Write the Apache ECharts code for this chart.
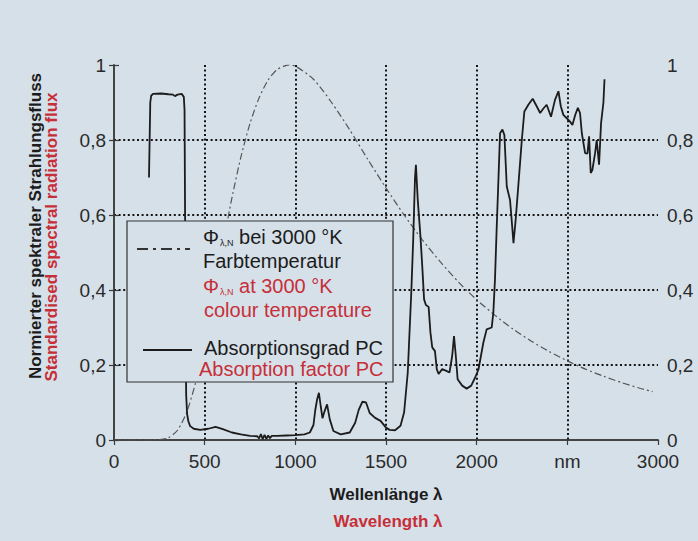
<!DOCTYPE html>
<html><head><meta charset="utf-8">
<script src="https://cdn.jsdelivr.net/npm/echarts@6/dist/echarts.min.js"></script>
<style>html,body{margin:0;padding:0;background:#d6e0e9}#c{width:698px;height:541px}</style>
</head><body><div id="c"></div>
<script>
// Tick labels
const xTickLabels = ['0', '500', '1000', '1500', '2000', 'nm', '3000'];
const yTickLabels = ['0', '0,2', '0,4', '0,6', '0,8', '1'];

// Normalised spectral radiation flux at 3000 K colour temperature (dash-dot curve)
const planckWavelength = [0, 100, 200, 250, 300, 350, 400, 450, 500, 550, 600, 650, 700, 750, 800, 850, 900, 950, 966, 1000, 1100, 1200, 1300, 1400, 1500, 1600, 1700, 1800, 1900, 2000, 2100, 2200, 2300, 2400, 2500, 2600, 2700, 2800, 2900, 2970];
const planckValue      = [0, 0, 0, 0.001, 0.006, 0.026, 0.073, 0.153, 0.262, 0.388, 0.520, 0.645, 0.755, 0.844, 0.912, 0.960, 0.988, 0.999, 1.0, 0.997, 0.962, 0.900, 0.827, 0.748, 0.672, 0.600, 0.534, 0.475, 0.421, 0.374, 0.333, 0.296, 0.264, 0.236, 0.211, 0.189, 0.170, 0.153, 0.138, 0.129];

// Absorption factor PC (solid curve)
const absWavelength = [193, 200, 205, 215, 260, 300, 325, 336, 350, 373, 385, 389, 392, 395, 398, 403, 410, 420, 440, 475, 520, 560, 600, 650, 700, 750, 790, 800, 810, 820, 830, 840, 850, 860, 870, 900, 950, 1000, 1050, 1080, 1100, 1110, 1120, 1130, 1140, 1150, 1160, 1175, 1190, 1210, 1250, 1300, 1330, 1350, 1370, 1390, 1410, 1440, 1470, 1500, 1520, 1550, 1580, 1600, 1620, 1640, 1650, 1660, 1665, 1675, 1690, 1700, 1710, 1720, 1735, 1745, 1755, 1770, 1780, 1790, 1810, 1830, 1850, 1865, 1875, 1885, 1895, 1920, 1945, 1970, 1991, 2010, 2037, 2055, 2083, 2092, 2101, 2110, 2120, 2129, 2142, 2153, 2166, 2184, 2193, 2203, 2215, 2230, 2249, 2263, 2285, 2309, 2331, 2350, 2368, 2386, 2410, 2432, 2451, 2464, 2478, 2497, 2515, 2528, 2543, 2558, 2570, 2580, 2598, 2611, 2620, 2629, 2638, 2653, 2662, 2675, 2686, 2699, 2705];
const absValue      = [0.70, 0.90, 0.918, 0.923, 0.924, 0.922, 0.921, 0.917, 0.921, 0.923, 0.915, 0.88, 0.60, 0.30, 0.12, 0.07, 0.05, 0.037, 0.03, 0.027, 0.03, 0.035, 0.029, 0.02, 0.015, 0.011, 0.01, 0.004, 0.016, 0.002, 0.014, 0.003, 0.012, 0.005, 0.011, 0.011, 0.012, 0.013, 0.015, 0.02, 0.04, 0.08, 0.108, 0.126, 0.09, 0.058, 0.075, 0.095, 0.055, 0.024, 0.015, 0.02, 0.046, 0.081, 0.102, 0.10, 0.072, 0.059, 0.051, 0.033, 0.027, 0.026, 0.038, 0.074, 0.18, 0.40, 0.534, 0.70, 0.734, 0.641, 0.543, 0.463, 0.375, 0.36, 0.355, 0.287, 0.247, 0.237, 0.189, 0.176, 0.189, 0.185, 0.18, 0.224, 0.277, 0.224, 0.162, 0.145, 0.137, 0.145, 0.166, 0.188, 0.26, 0.295, 0.30, 0.34, 0.428, 0.56, 0.694, 0.818, 0.828, 0.813, 0.676, 0.64, 0.587, 0.525, 0.587, 0.68, 0.80, 0.876, 0.894, 0.91, 0.89, 0.872, 0.884, 0.894, 0.862, 0.907, 0.93, 0.89, 0.867, 0.858, 0.849, 0.84, 0.866, 0.886, 0.872, 0.818, 0.765, 0.764, 0.81, 0.712, 0.72, 0.765, 0.80, 0.734, 0.845, 0.9, 0.962];

const BG = '#d6e0e9';
const RED = '#c62f38';
const INK = '#1c1c1c';
const FONT = '"Liberation Sans", Arial, Helvetica, sans-serif';

const planckData = planckWavelength.map((x, i) => [x, planckValue[i]]);
const absData = absWavelength.map((x, i) => [x, absValue[i]]);

const chart = echarts.init(document.getElementById('c'), null, { renderer: 'svg' });

const gridLine = { show: true, showMinLine: false, showMaxLine: false, lineStyle: { color: '#151515', width: 2, type: [2, 2.6] } };
const axisLineStyle = { show: true, lineStyle: { color: '#3a3a3a', width: 1.5 } };
const tickStyle = { show: true, length: 5, lineStyle: { color: '#3a3a3a', width: 1.2 } };
const labelStyle = { fontSize: 19, color: '#2a2a2a', fontFamily: FONT };

const subRich = {
  p: { fontSize: 20, fontFamily: FONT },
  s: { fontSize: 9, fontFamily: FONT, verticalAlign: 'bottom', padding: [0, 0, 0, 1] },
  t: { fontSize: 20, fontFamily: FONT }
};

function el(o) { o.zlevel = 1; o.z = o.z || 100; return o; }

chart.setOption({
  backgroundColor: BG,
  animation: false,
  textStyle: { fontFamily: FONT },
  grid: { left: 114, right: 40, top: 65, bottom: 101, containLabel: false },
  xAxis: [
    {
      type: 'value', min: 0, max: 3000, interval: 500, position: 'bottom',
      axisLine: axisLineStyle, axisTick: tickStyle,
      axisLabel: Object.assign({ margin: 12, formatter: (v, i) => xTickLabels[Math.round(v / 500)] }, labelStyle),
      splitLine: gridLine
    },
    {
      type: 'value', min: 0, max: 3000, interval: 500, position: 'top',
      axisLine: axisLineStyle, axisTick: { show: false }, axisLabel: { show: false }, splitLine: { show: false }
    }
  ],
  yAxis: [
    {
      type: 'value', min: 0, max: 1, interval: 0.2, position: 'left',
      axisLine: axisLineStyle, axisTick: tickStyle,
      axisLabel: Object.assign({ margin: 8, formatter: (v) => yTickLabels[Math.round(v / 0.2)] }, labelStyle),
      splitLine: gridLine
    },
    {
      type: 'value', min: 0, max: 1, interval: 0.2, position: 'right',
      axisLine: axisLineStyle, axisTick: tickStyle,
      axisLabel: Object.assign({ margin: 9, formatter: (v) => yTickLabels[Math.round(v / 0.2)] }, labelStyle),
      splitLine: { show: false }
    }
  ],
  series: [
    {
      name: 'Φλ,N bei 3000 °K Farbtemperatur', type: 'line', data: planckData, smooth: 0.25,
      showSymbol: false, symbol: 'none', zlevel: 0,
      lineStyle: { color: '#555', width: 1.2, type: [7, 3, 2, 3] }, z: 3
    },
    {
      name: 'Absorptionsgrad PC', type: 'line', data: absData, smooth: false,
      showSymbol: false, symbol: 'none', zlevel: 0,
      lineStyle: { color: INK, width: 1.8 }, z: 4
    }
  ],
  graphic: {
    zlevel: 1,
    z: 100,
    elements: [
      // Y axis titles
      el({ type: 'text', x: 35, y: 226, rotation: Math.PI / 2,
        style: { text: 'Normierter spektraler Strahlungsfluss', fill: INK, font: 'bold 17px ' + FONT, align: 'center', verticalAlign: 'middle' } }),
      el({ type: 'text', x: 51, y: 237, rotation: Math.PI / 2,
        style: { text: 'Standardised spectral radiation flux', fill: RED, font: 'bold 17px ' + FONT, align: 'center', verticalAlign: 'middle' } }),
      // X axis titles
      el({ type: 'text', x: 386, y: 494,
        style: { text: 'Wellenlänge λ', fill: INK, font: 'bold 17px ' + FONT, align: 'center', verticalAlign: 'middle' } }),
      el({ type: 'text', x: 388, y: 521,
        style: { text: 'Wavelength λ', fill: RED, font: 'bold 17px ' + FONT, align: 'center', verticalAlign: 'middle' } }),
      // Legend box
      el({ type: 'rect', z: 100, shape: { x: 127, y: 221, width: 266, height: 161 },
        style: { fill: BG, stroke: '#333', lineWidth: 1.2 } }),
      el({ type: 'line', z: 101, shape: { x1: 137, y1: 249, x2: 190, y2: 249 },
        style: { stroke: '#333', lineWidth: 2, lineDash: [11, 5, 3, 5] } }),
      el({ type: 'text', z: 101, x: 203, y: 237,
        style: { text: '{p|Φ}{s|λ,N}{t| bei 3000 °K}', fill: INK, verticalAlign: 'middle', rich: subRich } }),
      el({ type: 'text', z: 101, x: 203, y: 261,
        style: { text: 'Farbtemperatur', fill: INK, font: '20px ' + FONT, verticalAlign: 'middle' } }),
      el({ type: 'text', z: 101, x: 203, y: 286,
        style: { text: '{p|Φ}{s|λ,N}{t| at 3000 °K}', fill: RED, verticalAlign: 'middle',
          rich: { p: Object.assign({ fill: RED }, subRich.p), s: Object.assign({ fill: RED }, subRich.s), t: Object.assign({ fill: RED }, subRich.t) } } }),
      el({ type: 'text', z: 101, x: 204, y: 310,
        style: { text: 'colour temperature', fill: RED, font: '20px ' + FONT, verticalAlign: 'middle' } }),
      el({ type: 'line', z: 101, shape: { x1: 143, y1: 350, x2: 192, y2: 350 },
        style: { stroke: INK, lineWidth: 2 } }),
      el({ type: 'text', z: 101, x: 204, y: 348,
        style: { text: 'Absorptionsgrad PC', fill: INK, font: '20px ' + FONT, verticalAlign: 'middle' } }),
      el({ type: 'text', z: 101, x: 199, y: 369,
        style: { text: 'Absorption factor PC', fill: RED, font: '20px ' + FONT, verticalAlign: 'middle' } })
    ]
  }
});
</script>
</body></html>
